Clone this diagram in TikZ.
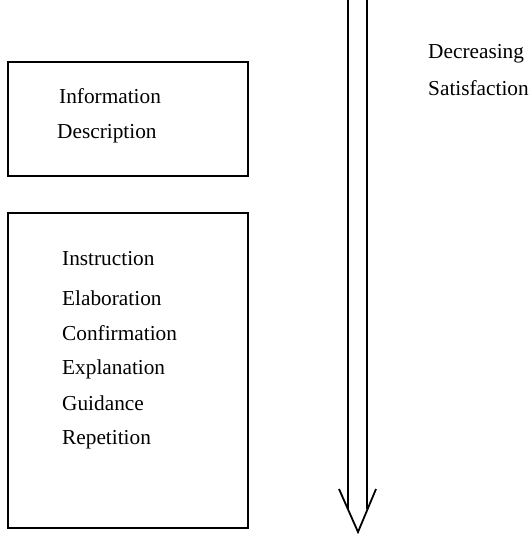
\documentclass[tikz,border=0pt]{standalone}
\usepackage{fontspec}
\setmainfont{Liberation Serif}
\begin{document}
\begin{tikzpicture}[x=1pt,y=-1pt,
  boxstyle/.style={draw,line width=1.8pt,inner sep=0pt},
  lbl/.style={anchor=mid west,inner sep=0pt,font=\fontsize{21.3}{25}\selectfont},
  arrowline/.style={line width=1.8pt}]
\useasboundingbox (0,0) rectangle (528,534);
\draw[boxstyle] (8,62) rectangle (248,176);
\draw[boxstyle] (8,213) rectangle (248,528);
\node[lbl] (info) at (59,101) {Information};
\node[lbl] (desc) at (57,136) {Description};
\node[lbl] (instr) at (62,263) {Instruction};
\node[lbl] (elab) at (62,303) {Elaboration};
\node[lbl] (conf) at (62,338) {Confirmation};
\node[lbl] (expl) at (62,372) {Explanation};
\node[lbl] (guid) at (62,408) {Guidance};
\node[lbl] (rep) at (62,442) {Repetition};
\node[lbl] (decr) at (428,56) {Decreasing};
\node[lbl] (sat) at (428,93) {Satisfaction};
\coordinate (lt) at (348,0);
\coordinate (lb) at (348,509);
\coordinate (rt) at (367,0);
\coordinate (rb) at (367,509);
\coordinate (al) at (339,489);
\coordinate (tip) at (358,532);
\coordinate (ar) at (376,489);
\draw[arrowline] (lt) -- (lb);
\draw[arrowline] (rt) -- (rb);
\draw[arrowline,line join=miter] (al) -- (tip) -- (ar);
\end{tikzpicture}
\end{document}
